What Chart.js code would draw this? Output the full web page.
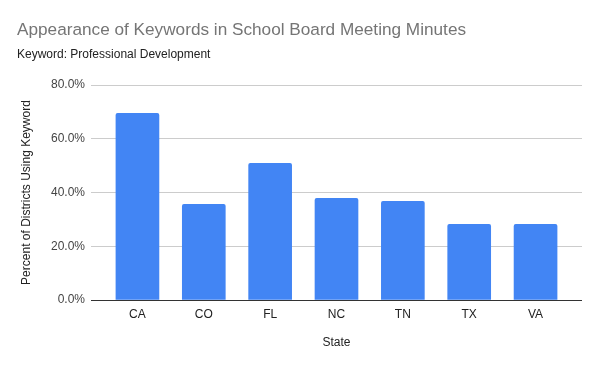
<!DOCTYPE html>
<html>
<head>
<meta charset="utf-8">
<script src="https://cdn.jsdelivr.net/npm/chart.js@4"></script>
<style>
  html, body { margin: 0; padding: 0; background: #fff; }
  #wrap { width: 600px; height: 371px; }
</style>
</head>
<body>
<div id="wrap"><canvas id="chart" width="600" height="371"></canvas></div>
<script>
const states = ["CA", "CO", "FL", "NC", "TN", "TX", "VA"];
const percentUsing = [69.5, 35.6, 50.9, 37.8, 36.7, 28.2, 28.2];
const yTicks = [0, 20, 40, 60, 80];

const font = "'Liberation Sans', Arial, sans-serif";

// barres placées sur une échelle linéaire pour laisser de la marge de chaque côté
new Chart(document.getElementById("chart").getContext("2d"), {
  type: "bar",
  data: {
    datasets: [
      {
        label: "Percent of Districts Using Keyword",
        data: states.map((s, i) => ({ x: i, y: percentUsing[i] })),
        backgroundColor: "#4285f4",
        barThickness: 43,
        borderRadius: 2,
        borderSkipped: "start",
      },
    ],
  },
  options: {
    responsive: false,
    animation: false,
    layout: { padding: { left: 17, right: 18, top: 0, bottom: 0 } },
    plugins: {
      legend: { display: false },
      tooltip: { enabled: false },
      title: {
        display: true,
        text: "Appearance of Keywords in School Board Meeting Minutes",
        align: "start",
        color: "#757575",
        font: { family: font, size: 17.2, weight: "normal" },
        padding: { top: 20, bottom: 0 },
      },
      subtitle: {
        display: true,
        text: "Keyword: Professional Development",
        align: "start",
        color: "#222222",
        font: { family: font, size: 12, weight: "normal" },
        padding: { top: 7, bottom: 23 },
      },
    },
    scales: {
      x: {
        type: "linear",
        offset: false,
        min: -0.7,
        max: states.length - 0.3,
        afterBuildTicks: (scale) => {
          scale.ticks = states.map((s, i) => ({ value: i }));
        },
        afterFit: (scale) => {
          scale.height = 71;
        },
        ticks: {
          callback: (v) => states[v],
          color: "#222222",
          padding: 7,
          font: { family: font, size: 12 },
          maxRotation: 0,
        },
        grid: { display: false, drawTicks: false },
        border: { display: false },
        title: {
          display: true,
          text: "State",
          color: "#222222",
          font: { family: font, size: 12 },
          padding: { top: 0, bottom: 21 },
        },
      },
      y: {
        min: 0,
        max: 80,
        afterBuildTicks: (scale) => {
          scale.ticks = yTicks.map((v) => ({ value: v }));
        },
        afterFit: (scale) => {
          scale.width = 74;
        },
        ticks: {
          callback: (v) => v.toFixed(1) + "%",
          color: "#444444",
          padding: 6,
          font: { family: font, size: 12 },
        },
        grid: {
          color: (ctx) => (ctx.tick && ctx.tick.value === 0 ? "#333333" : "#cccccc"),
          drawTicks: false,
        },
        border: { display: false },
        title: {
          display: true,
          text: "Percent of Districts Using Keyword",
          color: "#222222",
          font: { family: font, size: 12 },
          padding: { top: 2, bottom: 0 },
        },
      },
    },
  },
});
</script>
</body>
</html>
